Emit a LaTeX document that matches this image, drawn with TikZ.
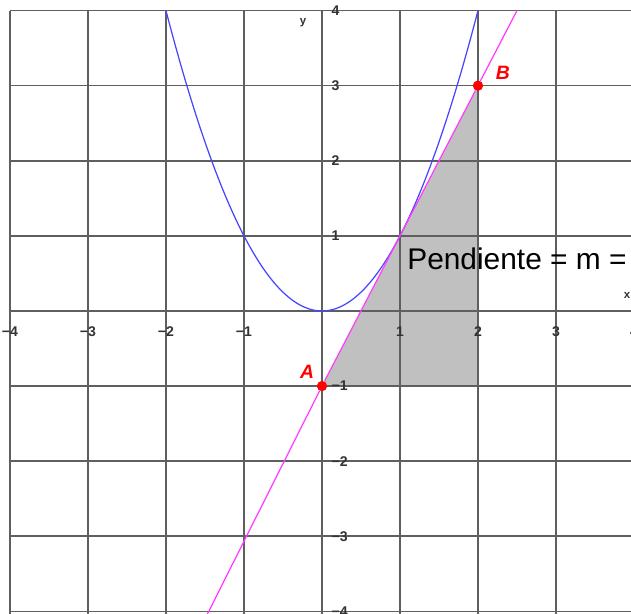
\documentclass[tikz,border=0pt]{standalone}
\usepackage{fontspec}
\setmainfont{Liberation Sans}
\definecolor{gridc}{RGB}{95,95,95}
\definecolor{parab}{RGB}{70,70,255}
\definecolor{secant}{RGB}{255,60,255}
\definecolor{tri}{RGB}{192,192,192}
\definecolor{ptred}{RGB}{255,0,0}
\begin{document}
\begin{tikzpicture}[x=1.56cm,y=1.502cm,
  gridline/.style={draw=gridc,line width=0.9pt},
  xtick/.style={font=\bfseries\fontsize{8}{8}\selectfont,inner sep=0pt,text=black!80},
  ytick/.style={font=\bfseries\fontsize{8}{8}\selectfont,inner sep=0pt,anchor=west,text=black!80},
  axlabel/.style={font=\bfseries\fontsize{6.5}{6.5}\selectfont,inner sep=0pt,text=black!80},
  pt/.style={circle,fill=ptred,inner sep=0pt,minimum size=0.2cm},
  ptlabel/.style={font=\bfseries\itshape\fontsize{11}{11}\selectfont,text=ptred,inner sep=0pt},
  curve/.style={draw=parab,line width=0.7pt},
  secline/.style={draw=secant,line width=0.7pt}]
\useasboundingbox (-4.128,-4.035) rectangle (3.962,4.141);
\clip (-4.128,-4.035) rectangle (3.962,4.141);
\fill[white] (-4.128,-4.035) rectangle (3.962,4.141);
% shaded triangle
\fill[tri] (0,-1) -- (2,-1) -- (2,3) -- cycle;
% grid
\foreach \k in {-4,...,4}{
  \draw[gridline] (\k,-4.2) -- (\k,4);
  \draw[gridline] (-4,\k) -- (4.2,\k);
}
% tick labels
\foreach \k/\t in {-4/−4,-3/−3,-2/−2,-1/−1,1/1,2/2,3/3,4/4}{
  \node[xtick] (xt\k) at (\k,-0.28) {\t};
}
\foreach \k/\t in {-4/−4,-3/−3,-2/−2,-1/−1,1/1,2/2,3/3,4/4}{
  \node[ytick] (yt\k) at (0.12,\k) {\t};
}
\node[axlabel] (ylab) at (-0.244,3.835) {y};
\node[axlabel] (xlab) at (3.91,0.2) {x};
% parabola
\draw[curve] plot[domain=-2:2,samples=100,smooth] (\x,{\x*\x});
% points
\node[pt] (A) at (0,-1) {};
\node[pt] (B) at (2,3) {};
\coordinate (L1) at (-1.5,-4.1);
\coordinate (L2) at (2.5,4);
\draw[secline] (L1) -- (A) -- (B) -- (L2);
\node[pt] at (A) {};
\node[pt] at (B) {};
\node[ptlabel] (Alab) at (-0.192,-0.812) {A};
\node[ptlabel] (Blab) at (2.32,3.17) {B};
% slope text
\node[anchor=base west,inner sep=0pt,font=\fontsize{17}{17}\selectfont] (pend) at (1.09,0.546) {Pendiente = m =};
\end{tikzpicture}
\end{document}
